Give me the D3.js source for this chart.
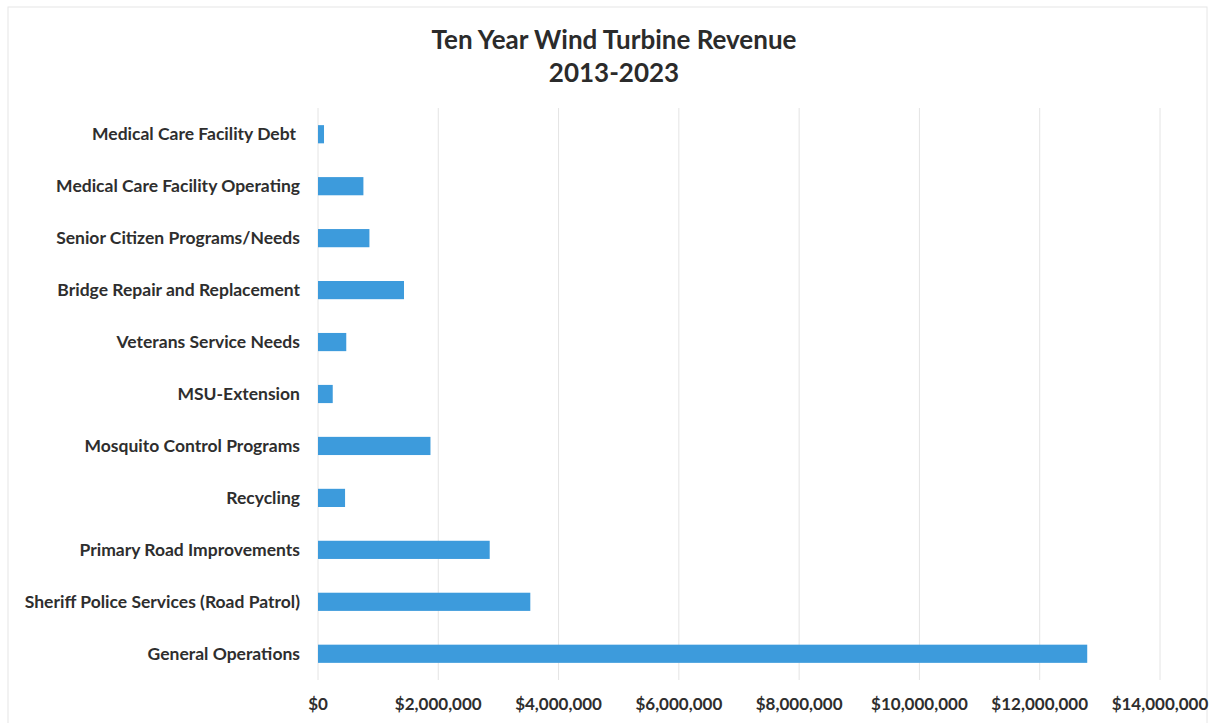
<!DOCTYPE html>
<html lang="en">
<head>
    <meta charset="UTF-8">
    <title>Ten Year Wind Turbine Revenue</title>
    <script src="https://d3js.org/d3.v7.min.js"></script>
    <style>
        body { margin: 0; background: #fff; }
        svg { font-family: Lato, "Open Sans", sans-serif; }
    </style>
</head>
<body>
    <script>
        const width = 1213;
        const height = 723;

        // data, top to bottom as in the chart
        const categories = [
            "Medical Care Facility Debt",
            "Medical Care Facility Operating",
            "Senior Citizen Programs/Needs",
            "Bridge Repair and Replacement",
            "Veterans Service Needs",
            "MSU-Extension",
            "Mosquito Control Programs",
            "Recycling",
            "Primary Road Improvements",
            "Sheriff Police Services (Road Patrol)",
            "General Operations"
        ];
        const revenue = [100000, 755000, 855000, 1430000, 470000, 245000, 1870000, 450000, 2855000, 3530000, 12790000];
        const xTicks = [0, 2000000, 4000000, 6000000, 8000000, 10000000, 12000000, 14000000];

        const data = categories.map((c, i) => ({ name: c, value: revenue[i] }));

        const x = d3.scaleLinear().domain([0, 14000000]).range([318, 1160]);
        const y = d3.scaleBand().domain(categories).range([108, 680]).paddingInner(0.65).paddingOuter(0.33);

        const svg = d3.select("body").append("svg")
            .attr("width", width)
            .attr("height", height);

        svg.append("rect")
            .attr("x", 8).attr("y", 7)
            .attr("width", width - 14).attr("height", height - 4)
            .attr("fill", "none")
            .attr("stroke", "#e6e6e6");

        svg.append("g")
            .selectAll("line")
            .data(xTicks)
            .join("line")
            .attr("x1", d => x(d)).attr("x2", d => x(d))
            .attr("y1", 108).attr("y2", 680)
            .attr("stroke", "#e4e4e4")
            .attr("stroke-width", 1);

        svg.append("g")
            .selectAll("rect")
            .data(data)
            .join("rect")
            .attr("x", x(0))
            .attr("y", d => y(d.name))
            .attr("width", d => x(d.value) - x(0))
            .attr("height", y.bandwidth())
            .attr("fill", "#3d9bdc");

        svg.append("g")
            .selectAll("text")
            .data(categories)
            .join("text")
            .attr("x", d => d === categories[0] ? 296 : 300)
            .attr("y", d => y(d) + y.bandwidth() / 2)
            .attr("dy", "0.35em")
            .attr("text-anchor", "end")
            .attr("font-size", 17.5)
            .attr("font-weight", "bold")
            .attr("fill", "#2e2e2e")
            .text(d => d);

        const fmt = d => "$" + d3.format(",")(d);
        svg.append("g")
            .selectAll("text")
            .data(xTicks)
            .join("text")
            .attr("x", d => x(d))
            .attr("y", 710)
            .attr("text-anchor", "middle")
            .attr("font-size", 17)
            .attr("font-weight", "bold")
            .attr("fill", "#2e2e2e")
            .text(fmt);

        const title = svg.append("text")
            .attr("x", 614)
            .attr("text-anchor", "middle")
            .attr("font-size", 26)
            .attr("font-weight", "bold")
            .attr("fill", "#2b2b2b");
        title.append("tspan").attr("x", 614).attr("y", 49).text("Ten Year Wind Turbine Revenue");
        title.append("tspan").attr("x", 614).attr("y", 82).text("2013-2023");
    </script>
</body>
</html>
